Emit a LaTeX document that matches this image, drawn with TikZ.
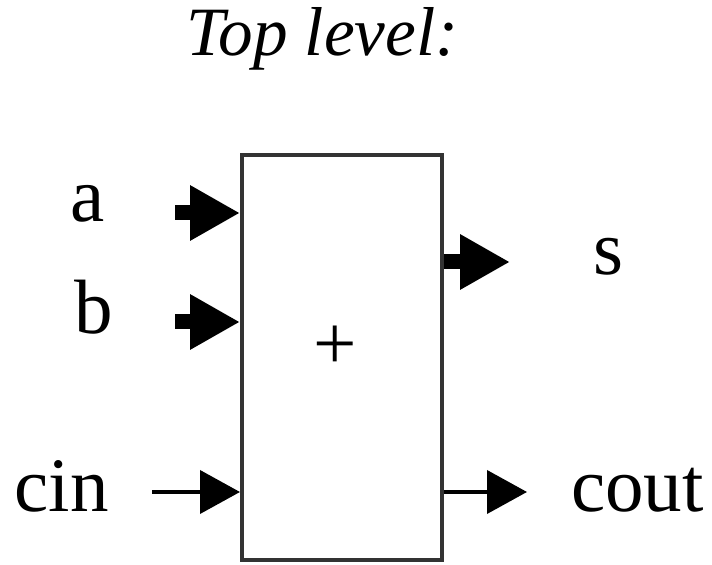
\documentclass[tikz,border=0pt]{standalone}
\usepackage{fontspec}
\setmainfont{Liberation Serif}
\usetikzlibrary{arrows.meta}

\begin{document}
\begin{tikzpicture}[
    x=0.5pt, y=-0.5pt,
    adder/.style={draw=black!80, line width=2pt, minimum width=100pt, minimum height=202.5pt, inner sep=0pt},
    port/.style={anchor=base, font=\fontsize{38.5}{40}\selectfont, inner sep=0pt},
    bus/.style={line width=7.5pt, -{Triangle[length=25pt, width=26pt]}},
    wire/.style={line width=2pt, -{Triangle[length=20pt, width=21.5pt]}}
]
    \useasboundingbox (0,0) rectangle (712,565);

    % Title
    \node[anchor=base, inner sep=0pt, font=\fontsize{34.6}{36}\selectfont\itshape] (title) at (322.5,56) {Top level:};

    % Adder block
    \node[adder] (adder) at (342,357.5) {};
    \node[inner sep=0pt, font=\fontsize{38.5}{40}\selectfont] (plus) at (335,348) {+};

    % Inputs
    \node[port] (a) at (87.5,222) {a};
    \node[port] (b) at (94,334) {b};
    \node[port] (cin) at (61.5,512) {cin};
    \coordinate (ain) at (175,213);
    \coordinate (bin) at (175,322);
    \coordinate (cinw) at (152,492);
    \draw[bus] (ain) -- (ain -| adder.west);
    \draw[bus] (bin) -- (bin -| adder.west);
    \draw[wire] (cinw) -- (cinw -| adder.west);

    % Outputs
    \node[port] (s) at (608,275) {s};
    \node[port] (cout) at (637.5,512) {cout};
    \coordinate (sout) at (510,262);
    \coordinate (coutw) at (527,492);
    \draw[bus] (sout -| adder.east) -- (sout);
    \draw[wire] (coutw -| adder.east) -- (coutw);
\end{tikzpicture}
\end{document}
